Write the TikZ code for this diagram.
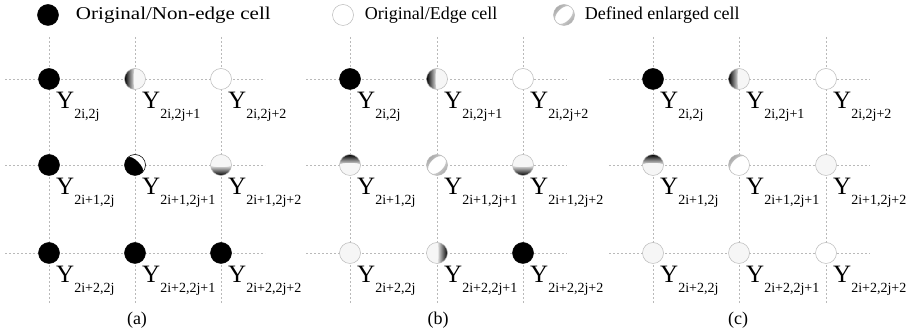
\documentclass[tikz,border=0pt]{standalone}
\usepackage{fontspec}
\setmainfont{Liberation Serif}
\usetikzlibrary{positioning,shadings}

\newcommand{\ysub}[1]{Y\raisebox{-10pt}{\fontsize{14}{14}\selectfont #1}}
% crescent inside a cell: #1 direction, #2 bulge, #3 outer colour, #4 inner colour
\newcommand{\moonshade}[4]{%
  \begin{scope}[shift={(path picture bounding box.center)}]
    \pgfmathsetmacro\mlo{#1-90}\pgfmathsetmacro\mhi{#1+90}
    \shade[top color=#3, bottom color=#4, shading angle=\mlo]
      (\mlo:10.5pt) arc[start angle=\mlo, end angle=\mhi, radius=10.5pt]
      .. controls ([shift={(#1:#2)}]\mhi:10.5pt) and ([shift={(#1:#2)}]\mlo:10.5pt) .. (\mlo:10.5pt);
  \end{scope}}

\begin{document}
\begin{tikzpicture}[
  x=1pt, y=1pt,
  gridline/.style={gray!55, line width=0.5pt, dash pattern=on 2pt off 2pt},
  cell/.style={circle, minimum size=21pt, inner sep=0pt, line width=0.5pt},
  nonedge/.style={cell, fill=black, draw=black},
  edgecell/.style={cell, fill=white, draw=gray!55},
  enlarged/.style={cell, fill=gray!7, draw=gray!55},
  moon/.style n args={4}{path picture={\moonshade{#1}{#2}{#3}{#4}}},
  twomoon/.style={path picture={\moonshade{135}{9pt}{gray!85}{white}\moonshade{315}{9pt}{gray!85}{white}}},
  ylab/.style={anchor=base west, inner sep=0pt, font=\fontsize{25}{25}\selectfont},
  legend/.style={anchor=west, inner sep=0pt, font=\fontsize{18}{18}\selectfont},
  caption/.style={inner sep=0pt, font=\fontsize{18}{18}\selectfont},
]
\useasboundingbox (0,0) rectangle (914,331);

%% ---- LEGEND ----
\node[nonedge] (key-nonedge) at (48,316) {};
\node[legend, right=17 of key-nonedge] {\scalebox{1.17}[1]{Original/Non-edge cell}};
\node[edgecell] (key-edge) at (343,316) {};
\node[legend, right=11 of key-edge] {Original/Edge cell};
\node[edgecell, twomoon] (key-enl) at (564,316) {};
\node[legend, right=10 of key-enl] {Defined enlarged cell};

%% ---- GRID (dashed) ----
\foreach \xa/\xb/\xc in {49/135/221, 350/437/523, 653/739/826}{
  \foreach \y in {252,166,78}
    \draw[gridline] (\xa-44,\y) -- (\xc+44,\y);
  \foreach \x in {\xa,\xb,\xc}
    \draw[gridline] (\x,294) -- (\x,28);
}

%% ---- PANEL (a) ----
\node[nonedge] (a-00) at (49,252) {};
\node[enlarged, moon={180}{2pt}{black}{gray!10}] (a-01) at (135,252) {};
\node[edgecell] (a-02) at (221,252) {};
\node[nonedge] (a-10) at (49,166) {};
\node[nonedge, moon={45}{6pt}{white}{white}] (a-11) at (135,166) {};
\node[enlarged, moon={270}{3pt}{black}{gray!10}] (a-12) at (221,166) {};
\node[nonedge] (a-20) at (49,78) {};
\node[nonedge] (a-21) at (135,78) {};
\node[nonedge] (a-22) at (221,78) {};

%% ---- PANEL (b) ----
\node[nonedge] (b-00) at (350,252) {};
\node[enlarged, moon={180}{2pt}{black}{gray!10}] (b-01) at (437,252) {};
\node[edgecell] (b-02) at (523,252) {};
\node[enlarged, moon={90}{3pt}{black}{gray!10}] (b-10) at (350,166) {};
\node[edgecell, twomoon] (b-11) at (437,166) {};
\node[enlarged, moon={270}{3pt}{black}{gray!10}] (b-12) at (523,166) {};
\node[enlarged] (b-20) at (350,78) {};
\node[enlarged, moon={0}{2pt}{black}{gray!10}] (b-21) at (437,78) {};
\node[nonedge] (b-22) at (523,78) {};

%% ---- PANEL (c) ----
\node[nonedge] (c-00) at (653,252) {};
\node[enlarged, moon={180}{2pt}{black}{gray!10}] (c-01) at (739,252) {};
\node[edgecell] (c-02) at (826,252) {};
\node[enlarged, moon={90}{3pt}{black}{gray!10}] (c-10) at (653,166) {};
\node[edgecell, moon={135}{9pt}{gray!85}{white}] (c-11) at (739,166) {};
\node[enlarged] (c-12) at (826,166) {};
\node[enlarged] (c-20) at (653,78) {};
\node[enlarged] (c-21) at (739,78) {};
\node[edgecell] (c-22) at (826,78) {};

%% ---- CELL LABELS ----
\foreach \p in {a,b,c}{
  \foreach \r/\rs in {0/2i, 1/2i+1, 2/2i+2}{
    \foreach \c/\cs in {0/2j, 1/2j+1, 2/2j+2}{
      \node[ylab] (\p-\r\c-lab) at ([shift={(7,-30)}]\p-\r\c.center) {\ysub{\rs,\cs}};
    }
  }
}

%% ---- CAPTIONS ----
\node[caption] (cap-a) at (137,11) {(a)};
\node[caption] (cap-b) at (438,11) {(b)};
\node[caption] (cap-c) at (738,11) {(c)};

\end{tikzpicture}
\end{document}
